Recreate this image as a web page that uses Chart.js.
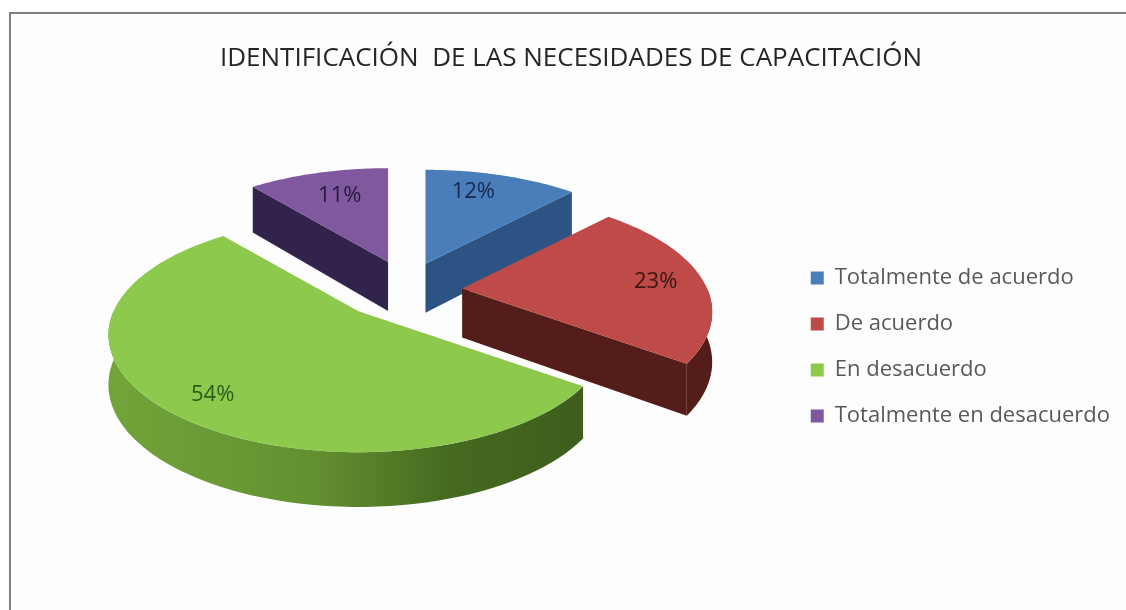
<!DOCTYPE html>
<html>
<head>
<meta charset="utf-8">
<title>Necesidades de capacitación</title>
<script src="https://cdn.jsdelivr.net/npm/chart.js@4/dist/chart.umd.js"></script>
<style>
html, body { margin: 0; padding: 0; background: #fff; overflow: hidden; }
#frame { position: absolute; left: 9px; top: 12px; right: -10px; bottom: -10px; border-top: 2px solid #7f7f7f; border-left: 2px solid #7f7f7f; background: #fdfdfd; }
#wrap { position: absolute; left: 0; top: 0; width: 1126px; height: 610px; filter: blur(0.5px); }
</style>
</head>
<body>
<div id="frame"></div>
<div id="wrap"><canvas id="pieChart"></canvas></div>
<script>
var chartTitle = "IDENTIFICACIÓN  DE LAS NECESIDADES DE CAPACITACIÓN";
var categories = ["Totalmente de acuerdo", "De acuerdo", "En desacuerdo", "Totalmente en desacuerdo"];
var percentages = [12, 23, 54, 11];

var topColors = ["#4a7ebb", "#be4b48", "#8cc94c", "#80589f"];
var sideColors = ["#2d5384", "#551d1a", "#466b22", "#31234b"];
var labelColors = ["#16294d", "#3a1512", "#2b5a1c", "#241a3a"];
var explode = [52, 56, 70, 54];
var lift = [0, -4, -19, 0];
var labelNudge = [[-8, -7], [25, 0], [-15, 19], [3, -1]];

// look of the tilted pie
var squash = 0.46, perspective = 0.2, explodeSquash = 0.67, thickness = 49;
var shiftX = 2, shiftY = -51;

function Tilted(arc, i) {
  var mid = (arc.startAngle + arc.endAngle) / 2 + Math.PI / 2;
  this.R = arc.outerRadius;
  this.ax = arc.x + shiftX + arc.options.offset * Math.sin(mid);
  this.ay = arc.y + shiftY + lift[i] - arc.options.offset * Math.cos(mid) * explodeSquash;
}
// theta is clockwise from the top, frac is 0..1 along the radius
Tilted.prototype.at = function (theta, frac, z) {
  var X = Math.sin(theta) * frac, Y = -Math.cos(theta) * frac;
  var s = 1 / (1 - perspective * Y);
  return { x: this.ax + this.R * X * s, y: this.ay + this.R * squash * Y * s + z * Math.sqrt(s) };
};

function poly(ctx, pts, fill) {
  ctx.beginPath();
  pts.forEach(function (p, i) { if (i) ctx.lineTo(p.x, p.y); else ctx.moveTo(p.x, p.y); });
  ctx.closePath();
  ctx.fillStyle = fill;
  ctx.fill();
}

function arcPoints(view, a0, a1, z) {
  var pts = [], n = 60;
  for (var i = 0; i <= n; i++) pts.push(view.at(a0 + (a1 - a0) * i / n, 1, z));
  return pts;
}

function drawSlice(ctx, arc, i) {
  var view = new Tilted(arc, i);
  var a0 = arc.startAngle + Math.PI / 2, a1 = arc.endAngle + Math.PI / 2;
  var apex = view.at(0, 0, 0), apexLow = view.at(0, 0, thickness);

  // cut faces, only the ones turned to the viewer
  if (Math.sin(a0) < -0.001) {
    poly(ctx, [apex, view.at(a0, 1, 0), view.at(a0, 1, thickness), apexLow], sideColors[i]);
  }
  if (Math.sin(a1) > 0.001) {
    poly(ctx, [apex, view.at(a1, 1, 0), view.at(a1, 1, thickness), apexLow], sideColors[i]);
  }

  // rim, front half only
  var r0 = Math.max(a0, Math.PI / 2), r1 = Math.min(a1, Math.PI * 1.5);
  if (r1 > r0) {
    var rim = arcPoints(view, r0, r1, 0).concat(arcPoints(view, r1, r0, thickness));
    var fill = sideColors[i];
    if (i === 2) {
      fill = ctx.createLinearGradient(view.ax - view.R, 0, view.ax + view.R, 0);
      fill.addColorStop(0, "#72a43a");
      fill.addColorStop(0.42, "#628f30");
      fill.addColorStop(0.68, "#456a20");
      fill.addColorStop(1, "#3c5c1c");
    }
    poly(ctx, rim, fill);
  }

  // top face
  poly(ctx, [apex].concat(arcPoints(view, a0, a1, 0)), arc.options.backgroundColor);
}

class TiltedPieController extends Chart.PieController {
  draw() {
    var ctx = this.chart.ctx, arcs = this.getMeta().data;
    // back slices first, the big front one last
    [3, 0, 1, 2].forEach(function (i) { drawSlice(ctx, arcs[i], i); });
  }
}
TiltedPieController.id = "tiltedPie";
TiltedPieController.defaults = Chart.PieController.defaults;
TiltedPieController.overrides = Chart.PieController.overrides;
Chart.register(TiltedPieController);

var sliceLabels = {
  id: "sliceLabels",
  afterDatasetsDraw: function (chart) {
    var ctx = chart.ctx;
    ctx.save();
    ctx.font = "22px 'Open Sans'";
    ctx.textAlign = "center";
    ctx.textBaseline = "middle";
    chart.getDatasetMeta(0).data.forEach(function (arc, i) {
      var mid = (arc.startAngle + arc.endAngle) / 2 + Math.PI / 2;
      var p = new Tilted(arc, i).at(mid, 0.7, 0);
      ctx.fillStyle = labelColors[i];
      ctx.fillText(percentages[i] + "%", p.x + labelNudge[i][0], p.y + labelNudge[i][1]);
    });
    ctx.restore();
  }
};

new Chart(document.getElementById("pieChart"), {
  type: "tiltedPie",
  plugins: [sliceLabels],
  data: {
    labels: categories,
    datasets: [{
      data: percentages,
      backgroundColor: topColors,
      borderWidth: 0,
      offset: explode,
      radius: 245
    }]
  },
  options: {
    responsive: true,
    maintainAspectRatio: false,
    animation: false,
    layout: { padding: { left: 22, top: 0, right: 6, bottom: 18 } },
    plugins: {
      tooltip: { enabled: false },
      title: {
        display: true,
        text: chartTitle,
        color: "#262626",
        font: { family: "'Open Sans'", size: 26, weight: "normal" },
        padding: { top: 43, bottom: 28 }
      },
      legend: {
        position: "right",
        fullSize: false,
        labels: {
          boxWidth: 13,
          boxHeight: 13,
          padding: 24,
          color: "#595959",
          font: { family: "'Open Sans'", size: 22 }
        }
      }
    }
  }
});
</script>
</body>
</html>
